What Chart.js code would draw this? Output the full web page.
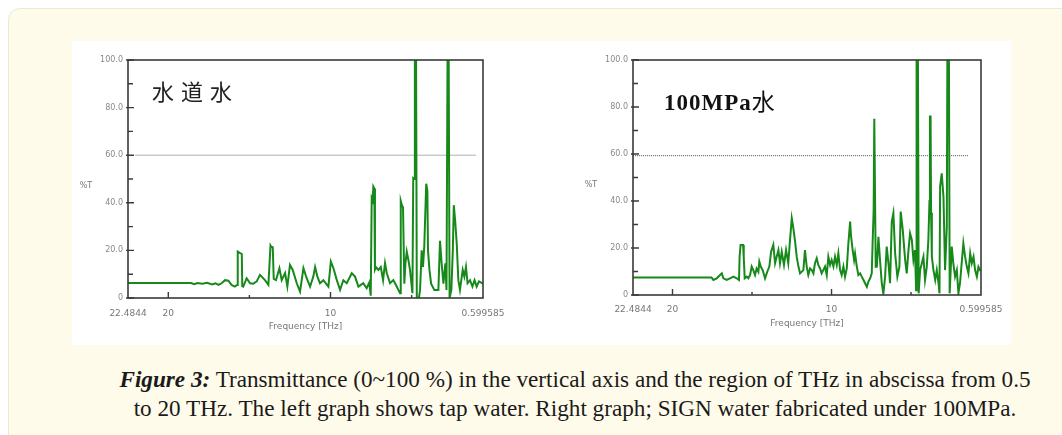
<!DOCTYPE html>
<html>
<head>
<meta charset="utf-8">
<script src="https://cdn.jsdelivr.net/npm/chart.js@4.4.1/dist/chart.umd.min.js"></script>
<style>
  body { margin: 0; width: 1062px; height: 435px; overflow: hidden; background: #fff; position: relative; }
  .box { position: absolute; left: 8px; top: 8px; width: 1100px; height: 460px; background: #fffbea; border: 1px solid #ebe8d6; border-radius: 12px; }
  .panel { position: absolute; left: 72px; top: 41px; width: 939px; height: 304px; background: #fff; }
  canvas { position: absolute; }
  .label-tap { position: absolute; left: 152px; top: 79px; font: 22px/22px "Noto Sans CJK JP", sans-serif; letter-spacing: 7px; color: #222; }
  .label-mpa { position: absolute; left: 664px; top: 89px; font: bold 23px/23px "Liberation Serif", serif; letter-spacing: 1px; color: #111; }
  .label-mpa span { font-family: "Noto Sans CJK JP", sans-serif; font-weight: normal; }
  .caption { position: absolute; left: 50px; width: 1050px; top: 365px; text-align: center; font: 23.2px/28.5px "Liberation Serif", serif; color: #1a1a1a; }
  .caption b { font-style: italic; }
</style>
</head>
<body>
<div class="box"></div>
<div class="panel"></div>
<canvas id="tap" width="440" height="300" style="left:72px;top:41px"></canvas>
<canvas id="mpa" width="440" height="300" style="left:577px;top:41px"></canvas>
<div class="label-tap">水道水</div>
<div class="label-mpa">100MPa<span>水</span></div>
<div class="caption"><b>Figure 3:</b> Transmittance (0~100 %) in the vertical axis and the region of THz in abscissa from 0.5<br>to 20 THz. The left graph shows tap water. Right graph; SIGN water fabricated under 100MPa.</div>

<script>
// x axis: frequency in THz (reversed), y axis: %T
const xTickValues = [22.4844, 20, 10, 0.599585];
const xTickLabels = ['22.4844', '20', '10', '0.599585'];
const xMinorTicks = [15, 5];
const yTickLabels = ['0', '20.0', '40.0', '60.0', '80.0', '100.0'];

// [frequency THz, %T]
const tapWater = [
  [22.4844, 6.3], [18.60, 6.3], [18.40, 5.8], [18.20, 6.3], [17.90, 6.0], [17.60, 6.4], [17.30, 5.7],
  [17.10, 6.2], [16.90, 5.5], [16.70, 6.3], [16.50, 7.5], [16.30, 7.3], [16.10, 5.5], [15.90, 4.8],
  [15.76, 5.5], [15.72, 19.5], [15.60, 19.0], [15.47, 18.5], [15.44, 5.0], [15.38, 4.8], [15.17, 8.3],
  [14.96, 6.2], [14.76, 6.0], [14.55, 7.0], [14.35, 9.7], [14.04, 7.5], [13.83, 5.5], [13.70, 22.0],
  [13.66, 21.5], [13.56, 21.3], [13.50, 8.0], [13.36, 7.5], [13.15, 12.5], [13.01, 7.5], [12.80, 10.5],
  [12.66, 4.8], [12.50, 13.9], [12.33, 11.8], [12.08, 6.2], [11.88, 2.7], [11.67, 12.5], [11.47, 8.3],
  [11.26, 4.8], [11.06, 9.0], [10.95, 13.0], [10.81, 9.0], [10.65, 6.2], [10.44, 7.5], [10.13, 4.8],
  [9.98, 15.3], [9.82, 12.5], [9.61, 7.5], [9.41, 3.4], [9.21, 7.5], [9.00, 6.2], [8.69, 10.4],
  [8.49, 9.0], [8.28, 4.8], [7.98, 6.2], [7.77, 4.1], [7.61, 6.5], [7.52, 1.0], [7.46, 42.0],
  [7.40, 41.0], [7.36, 46.8], [7.30, 46.0], [7.26, 12.0], [7.20, 13.0], [7.05, 11.8], [6.90, 13.0],
  [6.76, 7.5], [6.64, 14.6], [6.53, 10.4], [6.33, 6.2], [6.13, 7.5], [5.92, 4.8], [5.82, 3.4],
  [5.71, 2.0], [5.67, 40.8], [5.60, 39.0], [5.53, 38.0], [5.45, 6.0], [5.38, 14.6], [5.30, 19.5],
  [5.20, 16.0], [5.10, 11.8], [4.95, 2.0], [4.90, 50.3], [4.85, 50.0], [4.80, 110], [4.73, 110],
  [4.68, 0], [4.55, 0], [4.48, 3.4], [4.38, 20.0], [4.30, 13.0], [4.22, 21.6], [4.10, 48.0],
  [4.03, 45.0], [3.99, 20.0], [3.90, 11.8], [3.80, 6.0], [3.60, 3.4], [3.35, 3.4], [3.25, 24.0],
  [3.15, 14.6], [3.04, 6.0], [2.92, 14.6], [2.85, 3.4], [2.78, 110], [2.72, 110], [2.66, 0],
  [2.55, 3.4], [2.46, 20.0], [2.40, 39.0], [2.32, 32.8], [2.22, 23.0], [2.12, 7.5], [2.02, 3.4],
  [1.85, 11.8], [1.75, 9.0], [1.65, 13.0], [1.55, 6.2], [1.40, 7.5], [1.25, 4.8], [1.12, 7.5],
  [0.99, 4.8], [0.85, 7.0], [0.599585, 6.0]
];

const mpaWater = [
  [22.4844, 7.5], [17.55, 7.5], [17.43, 6.4], [17.22, 7.1], [17.01, 8.5], [16.90, 9.2], [16.80, 7.1],
  [16.59, 6.4], [16.38, 7.1], [16.17, 7.8], [15.96, 7.1], [15.82, 6.4], [15.78, 16.3], [15.72, 21.3],
  [15.56, 21.3], [15.52, 16.0], [15.46, 7.1], [15.33, 7.8], [15.23, 7.1], [15.12, 8.5], [15.02, 12.1],
  [14.92, 10.6], [14.81, 8.5], [14.71, 11.3], [14.60, 9.9], [14.54, 14.2], [14.45, 12.1], [14.33, 10.6],
  [14.18, 7.1], [14.04, 9.9], [13.91, 12.1], [13.80, 18.4], [13.66, 21.3], [13.55, 13.5], [13.45, 16.3],
  [13.34, 19.1], [13.24, 13.5], [13.13, 18.4], [12.99, 12.8], [12.86, 19.1], [12.72, 13.5], [12.61, 23.4],
  [12.50, 32.6], [12.40, 28.4], [12.29, 22.7], [12.19, 16.3], [12.08, 12.1], [11.98, 9.2], [11.77, 10.6],
  [11.67, 19.1], [11.56, 12.1], [11.46, 8.5], [11.35, 11.3], [11.24, 10.6], [11.14, 9.2], [11.04, 13.5],
  [10.93, 15.6], [10.83, 12.8], [10.72, 11.3], [10.62, 9.2], [10.41, 12.1], [10.30, 8.5], [10.20, 16.3],
  [10.09, 12.8], [9.99, 14.9], [9.88, 12.1], [9.78, 16.3], [9.67, 12.8], [9.57, 17.7], [9.46, 10.6],
  [9.36, 8.5], [9.25, 12.1], [9.15, 7.8], [9.04, 11.3], [8.94, 22.0], [8.83, 31.2], [8.77, 24.8],
  [8.67, 19.1], [8.58, 14.9], [8.52, 17.7], [8.41, 12.1], [8.31, 8.5], [8.20, 9.2], [8.10, 7.8],
  [7.99, 6.4], [7.89, 5.0], [7.78, 3.5], [7.68, 5.7], [7.57, 7.1], [7.47, 9.2], [7.41, 23.4],
  [7.35, 36.2], [7.31, 75.0], [7.27, 75.0], [7.22, 12.0], [7.15, 12.1], [7.05, 24.8], [6.95, 14.9],
  [6.84, 5.0], [6.74, 0.5], [6.63, 7.8], [6.53, 20.6], [6.42, 13.5], [6.32, 5.0], [6.21, 31.2],
  [6.11, 34.8], [6.00, 17.7], [5.86, 7.8], [5.73, 12.0], [5.65, 35.5], [5.52, 27.7], [5.37, 14.9],
  [5.27, 9.2], [5.16, 19.1], [5.06, 26.2], [4.95, 23.4], [4.85, 14.9], [4.75, 19.1], [4.68, 2.0],
  [4.65, 110], [4.57, 110], [4.52, 0.7], [4.43, 10.6], [4.32, 13.5], [4.22, 16.3], [4.12, 6.4],
  [4.01, 12.0], [3.91, 23.4], [3.84, 40.0], [3.81, 76.0], [3.77, 76.0], [3.74, 35.0], [3.69, 16.3],
  [3.59, 10.6], [3.48, 6.4], [3.38, 10.6], [3.27, 5.0], [3.21, 0.7], [3.17, 46.1], [3.07, 51.8],
  [2.96, 41.8], [2.86, 10.6], [2.75, 29.1], [2.71, 110], [2.62, 110], [2.57, 0.7], [2.44, 20.6],
  [2.34, 13.5], [2.23, 7.8], [2.12, 10.6], [2.02, 0.7], [1.92, 5.0], [1.71, 22.0], [1.60, 16.3],
  [1.49, 12.0], [1.39, 9.2], [1.28, 17.7], [1.18, 13.5], [1.07, 16.3], [0.97, 10.6], [0.86, 7.8],
  [0.76, 12.0], [0.66, 10.6], [0.599585, 11.0]
];

// the gray level line in each graph: [from THz, to THz, %T]
const tapLevel = [22.05, 1.03, 60];
const mpaLevel = [22.48, 1.35, 59.3];

const green = '#16891a';

// frame with inward ticks, like the original instrument plot
const framePlugin = {
  id: 'frame',
  afterDatasetsDraw(chart) {
    const { ctx, chartArea: a, scales: { x, y } } = chart;
    ctx.save();
    ctx.strokeStyle = '#3a3a3a';
    ctx.lineWidth = 1.6;
    ctx.strokeRect(a.left, a.top, a.right - a.left, a.bottom - a.top);
    ctx.lineWidth = 1.4;
    ctx.beginPath();
    y.ticks.forEach((t, i) => {
      const py = y.getPixelForValue(t.value);
      ctx.moveTo(a.left - 2, py); ctx.lineTo(a.left + 6, py);
      if (i > 0) {
        const pm = y.getPixelForValue(t.value - 10);
        ctx.moveTo(a.left, pm); ctx.lineTo(a.left + 5, pm);
      }
    });
    [20, 10].forEach(v => {
      const px = x.getPixelForValue(v);
      ctx.moveTo(px, a.bottom); ctx.lineTo(px, a.bottom - 6);
    });
    xMinorTicks.forEach(v => {
      const px = x.getPixelForValue(v);
      ctx.moveTo(px, a.bottom); ctx.lineTo(px, a.bottom - 3);
    });
    ctx.stroke();
    ctx.fillStyle = '#777';
    ctx.font = '8px "DejaVu Sans"';
    ctx.textAlign = 'center';
    ctx.textBaseline = 'middle';
    ctx.fillText('%T', a.left - 42, (a.top + a.bottom) / 2 + 7);
    ctx.restore();
  }
};

function makeChart(id, spectrum, level, opts) {
  const ctx = document.getElementById(id).getContext('2d');
  return new Chart(ctx, {
    type: 'line',
    data: {
      datasets: [
        {
          data: spectrum.map(p => ({ x: p[0], y: p[1] })),
          borderColor: green,
          borderWidth: 2,
          pointRadius: 0,
          tension: 0
        },
        {
          data: [{ x: level[0], y: level[2] }, { x: level[1], y: level[2] }],
          borderColor: opts.levelColor,
          borderWidth: 1,
          borderDash: opts.levelDash,
          pointRadius: 0
        }
      ]
    },
    options: {
      responsive: false,
      devicePixelRatio: 1,
      animation: false,
      layout: { padding: { top: 19, right: opts.padRight, left: 0, bottom: 0 } },
      plugins: { legend: { display: false }, tooltip: { enabled: false } },
      scales: {
        x: {
          type: 'linear',
          reverse: true,
          min: 0.599585,
          max: 22.4844,
          grid: { display: false, drawTicks: false },
          border: { display: false },
          afterBuildTicks: s => { s.ticks = xTickValues.map(v => ({ value: v })); },
          afterFit: s => {
            s.height = opts.xHeight;
            s.paddingLeft = 0; s.paddingRight = 0;
          },
          ticks: {
            autoSkip: false,
            maxRotation: 0,
            padding: opts.xTickPad,
            color: '#777',
            font: { family: 'DejaVu Sans', size: 9 },
            callback: (v, i) => xTickLabels[i]
          },
          title: {
            display: true,
            text: 'Frequency [THz]',
            color: '#777',
            font: { family: 'DejaVu Sans', size: 9 },
            padding: { top: 0, bottom: opts.titlePad }
          }
        },
        y: {
          min: 0,
          max: 100,
          grid: { display: false, drawTicks: false },
          border: { display: false },
          afterFit: s => {
            s.width = 56;
            s.paddingTop = 0; s.paddingBottom = 0;
          },
          ticks: {
            stepSize: 20,
            padding: 5,
            color: '#888',
            font: { family: 'DejaVu Sans', size: 8 },
            callback: v => yTickLabels[Math.round(v / 20)]
          }
        }
      }
    },
    plugins: [framePlugin]
  });
}

makeChart('tap', tapWater, tapLevel, {
  padRight: 29, xHeight: 43, xTickPad: 10, titlePad: 8.6,
  levelColor: '#b0b0b0', levelDash: []
});
makeChart('mpa', mpaWater, mpaLevel, {
  padRight: 36, xHeight: 46, xTickPad: 9, titlePad: 11.6,
  levelColor: '#555', levelDash: [1, 1]
});
</script>
</body>
</html>
